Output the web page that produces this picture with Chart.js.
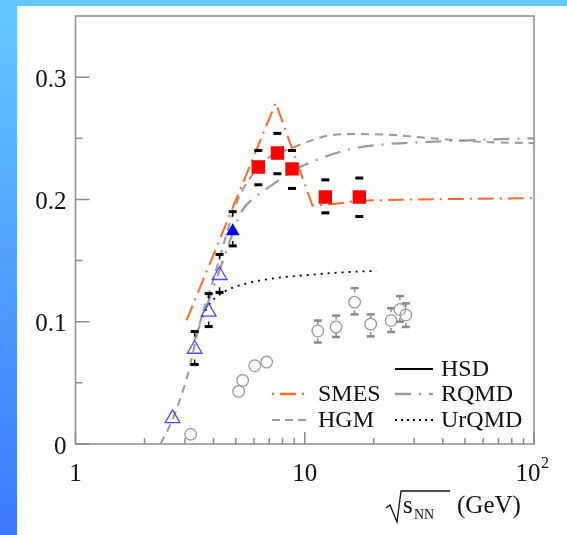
<!DOCTYPE html>
<html lang="en">
<head>
<meta charset="UTF-8">
<title>Ratio vs sqrt(s_NN)</title>
<style>
  html, body { margin: 0; padding: 0; }
  body { width: 567px; height: 535px; background: #64c8ff; position: relative; overflow: hidden; }
  #strip { position: absolute; left: 0; top: 0; width: 17px; height: 535px; background: linear-gradient(#64c8ff, #3c78ff); }
  #panel { position: absolute; left: 17px; top: 6px; width: 550px; height: 529px; background: #fff; }
  #chart { position: absolute; left: 0; top: 0; }
</style>
</head>
<body>
<div id="strip"></div>
<div id="panel"></div>
<canvas id="chart" width="567" height="535"></canvas>

<script src="https://cdn.jsdelivr.net/npm/chart.js"></script>
<script>
// NA49 (red squares)
const sqX  = [6.27, 7.6, 8.8, 12.3, 17.3];
const sqY  = [0.2265, 0.238, 0.225, 0.202, 0.202];
const sqHi = [0.240, 0.254, 0.240, 0.216, 0.2175];
const sqLo = [0.212, 0.221, 0.209, 0.189, 0.186];

// filled blue triangle
const ftX  = [4.85];
const ftY  = [0.174];
const ftHi = [0.19];
const ftLo = [0.162];

// open blue triangles
const otX  = [2.65, 3.31, 3.81, 4.25];
const otY  = [0.021, 0.0777, 0.108, 0.138];
const otHi = [null, 0.092, 0.123, 0.155];
const otLo = [null, 0.065, 0.096, 0.124];

// open grey circles
const ocX  = [3.18, 5.15, 5.36, 6.05, 6.82, 11.4, 13.7, 16.5, 19.4, 23.8, 26.0, 27.6];
const ocY  = [0.008, 0.043, 0.052, 0.064, 0.067, 0.0924, 0.0957, 0.116, 0.098, 0.101, 0.110, 0.1055];
const ocHi = [null, null, null, null, null, 0.101, 0.105, 0.1275, 0.106, 0.111, 0.121, 0.115];
const ocLo = [null, null, null, null, null, 0.083, 0.0875, 0.106, 0.088, 0.0916, 0.100, 0.0957];

// model curves
const smesX = [3.05, 7.47, 10.8, 13, 17.3, 30, 100];
const smesY = [0.101, 0.279, 0.195, 0.196, 0.199, 0.2, 0.201];

const hgmX = [2.35, 2.65, 3.08, 3.5, 4, 4.5, 5.1, 5.8, 6.7, 8.77, 13.1, 16.9, 25, 36, 60, 100];
const hgmY = [0, 0.02, 0.056, 0.1, 0.135, 0.168, 0.1995, 0.218, 0.232, 0.242, 0.2526, 0.2535, 0.2525, 0.25, 0.247, 0.246];

const rqmdX = [3.3, 4, 4.7, 5.3, 6.2, 7.4, 9, 10.7, 15.7, 22, 35, 60, 100];
const rqmdY = [0.085, 0.128, 0.165, 0.19, 0.203, 0.2134, 0.224, 0.2306, 0.241, 0.245, 0.247, 0.2488, 0.25];

const urqmdX = [3.55, 3.9, 4.5, 5.5, 7, 10, 15, 20.6];
const urqmdY = [0.104, 0.116, 0.125, 0.131, 0.135, 0.138, 0.1405, 0.1415];

const yTicks = [0, 0.1, 0.2, 0.3];
const yMinor = [0.05, 0.15, 0.25];
const xTicks = [1, 10, 100];

const legendItems = ['HSD', 'SMES', 'RQMD', 'HGM', 'UrQMD'];

const pts = (xs, ys) => xs.map((x, i) => ({ x: x, y: ys[i] }));
const SERIF = '"Liberation Serif", "DejaVu Serif", serif';
const ORANGE = '#ff6a2a';
const GREY = '#9a9a9a';

// error bars: cap plus short stub toward the marker
const errorBars = {
  id: 'errorBars',
  afterDatasetsDraw(chart) {
    const ctx = chart.ctx;
    const ys = chart.scales.y;
    chart.data.datasets.forEach((ds, di) => {
      if (!ds.hi) return;
      const meta = chart.getDatasetMeta(di);
      ctx.save();
      ctx.strokeStyle = ds.capColor;
      ctx.fillStyle = ds.capColor;
      meta.data.forEach((pt, i) => {
        [ds.hi[i], ds.lo[i]].forEach((v, k) => {
          if (v == null) return;
          const py = ys.getPixelForValue(v);
          const dir = k === 0 ? 1 : -1;
          ctx.fillRect(pt.x - 4, py - ds.capW / 2, 8, ds.capW);
          if (ds.stub) {
            ctx.lineWidth = 1.5;
            ctx.beginPath();
            ctx.moveTo(pt.x, py);
            ctx.lineTo(pt.x, py + dir * ds.stub);
            ctx.stroke();
          }
        });
      });
      ctx.restore();
    });
  }
};

// frame, inward ticks, tick labels, axis title, legend
const decor = {
  id: 'decor',
  afterDraw(chart) {
    const ctx = chart.ctx;
    const a = chart.chartArea;
    const xs = chart.scales.x, ys = chart.scales.y;
    ctx.save();
    ctx.strokeStyle = '#8c8c8c';
    ctx.lineWidth = 1.5;
    ctx.strokeRect(a.left, a.top, a.right - a.left, a.bottom - a.top);

    ctx.beginPath();
    yTicks.forEach(v => { const p = ys.getPixelForValue(v); ctx.moveTo(a.left, p); ctx.lineTo(a.left + 14, p); });
    yMinor.forEach(v => { const p = ys.getPixelForValue(v); ctx.moveTo(a.left, p); ctx.lineTo(a.left + 7, p); });
    for (let d = 1; d <= 10; d *= 10) {
      for (let m = 1; m <= 9; m++) {
        const p = xs.getPixelForValue(m * d);
        ctx.moveTo(p, a.bottom);
        ctx.lineTo(p, a.bottom - (m === 1 ? 12 : 6));
      }
    }
    const pe = xs.getPixelForValue(100);
    ctx.moveTo(pe, a.bottom); ctx.lineTo(pe, a.bottom - 12);
    ctx.stroke();

    ctx.fillStyle = '#111';
    ctx.font = '25px ' + SERIF;
    ctx.textAlign = 'right';
    ctx.textBaseline = 'middle';
    yTicks.forEach(v => ctx.fillText(String(v), a.left - 9, ys.getPixelForValue(v) + 3));

    ctx.textAlign = 'center';
    ctx.fillText('1', xs.getPixelForValue(1), 474);
    ctx.fillText('10', xs.getPixelForValue(10), 474);
    ctx.fillText('10', xs.getPixelForValue(100) - 6, 474);
    ctx.font = '16px ' + SERIF;
    ctx.textAlign = 'left';
    ctx.fillText('2', xs.getPixelForValue(100) + 7, 464);

    // sqrt(s_NN) (GeV)
    ctx.lineWidth = 1.3;
    ctx.strokeStyle = '#111';
    ctx.beginPath();
    ctx.moveTo(386, 508); ctx.lineTo(390, 505); ctx.lineTo(397, 522);
    ctx.lineTo(401, 491); ctx.lineTo(450, 491);
    ctx.stroke();
    ctx.textBaseline = 'alphabetic';
    ctx.font = '25px ' + SERIF;
    ctx.fillText('s', 403, 513);
    ctx.font = '14px ' + SERIF;
    ctx.fillText('NN', 414, 519);
    ctx.font = '25px ' + SERIF;
    ctx.fillText('(GeV)', 457, 513);

    // legend
    const entries = [
      { label: legendItems[0], x: 395, y: 369, color: '#000', dash: [], w: 2 },
      { label: legendItems[1], x: 272, y: 394, color: ORANGE, dash: [2, 6, 16, 6], w: 2.5 },
      { label: legendItems[2], x: 395, y: 394, color: GREY, dash: [16, 8, 2, 8], w: 2.5 },
      { label: legendItems[3], x: 272, y: 420, color: GREY, dash: [8, 5], w: 2 },
      { label: legendItems[4], x: 395, y: 420, color: '#000', dash: [2, 4], w: 1.8 }
    ];
    ctx.font = '24px ' + SERIF;
    ctx.textBaseline = 'middle';
    ctx.textAlign = 'left';
    entries.forEach(e => {
      ctx.strokeStyle = e.color;
      ctx.lineWidth = e.w;
      ctx.setLineDash(e.dash);
      ctx.beginPath();
      ctx.moveTo(e.x, e.y); ctx.lineTo(e.x + 38, e.y);
      ctx.stroke();
      ctx.setLineDash([]);
      ctx.fillStyle = '#111';
      ctx.fillText(e.label, e.x + 46, e.y + 1);
    });
    ctx.restore();
  }
};

const lineDs = (label, xs, ys, color, dash, width, tension) => ({
  label: label, data: pts(xs, ys), showLine: true, borderColor: color,
  borderWidth: width, borderDash: dash, pointRadius: 0, tension: tension,
  cubicInterpolationMode: tension ? 'monotone' : 'default'
});

new Chart(document.getElementById('chart'), {
  type: 'scatter',
  data: {
    datasets: [
      { label: 'NA49', data: pts(sqX, sqY), hi: sqHi, lo: sqLo, capColor: '#000', capW: 3, stub: 0,
        pointStyle: 'rect', radius: 9.5, backgroundColor: '#ff0000', borderColor: '#ff0000', borderWidth: 0 },
      { label: 'filled', data: pts(ftX, ftY), hi: ftHi, lo: ftLo, capColor: '#000', capW: 3, stub: 5,
        pointStyle: 'triangle', radius: 8, backgroundColor: '#0000ff', borderColor: '#0000ff', borderWidth: 0 },
      { label: 'AGS', data: pts(otX, otY), hi: otHi, lo: otLo, capColor: '#000', capW: 3, stub: 5,
        pointStyle: 'triangle', radius: 8.5, backgroundColor: 'rgba(0,0,0,0)', borderColor: '#4a4aff', borderWidth: 1.3 },
      { label: 'circles', data: pts(ocX, ocY), hi: ocHi, lo: ocLo, capColor: '#8a8a8a', capW: 2.5, stub: 4,
        pointStyle: 'circle', radius: 5.8, backgroundColor: 'rgba(0,0,0,0)', borderColor: '#9a9a9a', borderWidth: 1.3 },
      lineDs('SMES', smesX, smesY, ORANGE, [16, 6, 2, 6], 2, 0),
      lineDs('HGM', hgmX, hgmY, GREY, [8, 6], 2, 0.4),
      lineDs('RQMD', rqmdX, rqmdY, GREY, [16, 8, 2, 8], 2.2, 0.4),
      lineDs('UrQMD', urqmdX, urqmdY, '#000', [2, 5], 1.8, 0.4)
    ]
  },
  options: {
    responsive: false,
    animation: false,
    layout: { padding: { left: 75.5, right: 33, top: 16, bottom: 91 } },
    scales: {
      x: { type: 'logarithmic', min: 1, max: 100, display: false },
      y: { type: 'linear', min: 0, max: 0.35, display: false }
    },
    plugins: { legend: { display: false }, tooltip: { enabled: false } }
  },
  plugins: [errorBars, decor]
});
</script>
</body>
</html>
